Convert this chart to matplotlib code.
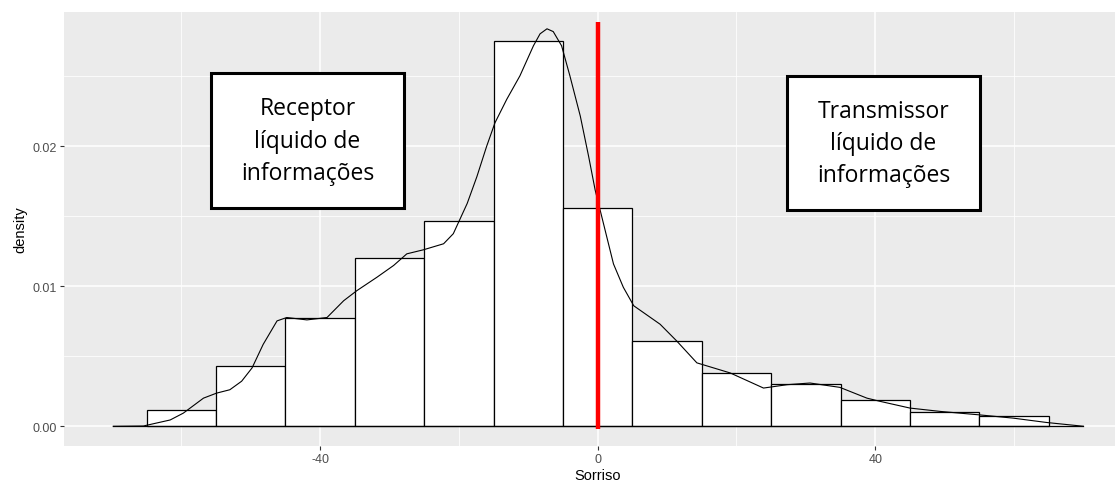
import numpy as np
import matplotlib
matplotlib.use("Agg")
import matplotlib.pyplot as plt
from matplotlib.patches import Rectangle

plt.rcParams["font.family"] = ["Liberation Sans", "DejaVu Sans"]

# histogram bins (binwidth 10) and their densities
bin_left = [-65, -55, -45, -35, -25, -15, -5, 5, 15, 25, 35, 45, 55]
bin_density = [0.00115, 0.00432, 0.00777, 0.0120, 0.01468, 0.02755, 0.01561,
               0.00612, 0.00381, 0.00302, 0.00187, 0.00101, 0.00072]

# density curve
dens_x = [-69.8, -65.45, -61.6, -59.7, -56.8, -54.9, -53.0, -51.3, -49.8, -48.2,
          -46.2, -44.8, -41.9, -39.0, -36.6, -34.7, -31.8, -29.4, -27.5, -25.1,
          -22.2, -20.8, -18.8, -17.4, -16.0, -14.8, -13.1, -11.2, -9.25, -8.3,
          -7.3, -6.4, -5.2, -4.0, -2.5, -1.3, -0.36, 0.84, 2.28, 3.7,
          5.2, 9.0, 11.4, 14.3, 19.1, 23.9, 27.3, 30.6, 34.9, 38.8,
          40.7, 45.0, 49.4, 55.1, 59.9, 64.7, 70.0]
dens_y = [0.0, 0.00002, 0.00045, 0.00094, 0.00201, 0.00237, 0.00261, 0.00322, 0.00417, 0.00585,
          0.00753, 0.00777, 0.00760, 0.00777, 0.00897, 0.00969, 0.01065, 0.01149, 0.01232, 0.01261,
          0.01304, 0.01376, 0.01592, 0.01784, 0.0200, 0.02168, 0.02336, 0.02504, 0.02719, 0.02804,
          0.0284, 0.0282, 0.02719, 0.02504, 0.02216, 0.01928, 0.01688, 0.01448, 0.0116, 0.00993,
          0.00861, 0.00729, 0.00609, 0.00453, 0.00381, 0.00273, 0.00297, 0.00309, 0.00278, 0.00201,
          0.00178, 0.0013, 0.00106, 0.00081, 0.00058, 0.00027, 0.0]

cut_at = 0
cut_top = 0.0289

labels_left = "Receptor\nlíquido de\ninformações"
labels_right = "Transmissor\nlíquido de\ninformações"

W, H = 1115, 489
fig = plt.figure(figsize=(W / 100, H / 100), dpi=100)
fig.patch.set_facecolor("white")

# panel in pixels: left 64, right ~1132 (cropped), top 13, bottom 447
px_l, px_r, px_t, px_b = 64, 1132, 13, 447
ax = fig.add_axes([px_l / W, 1 - px_b / H, (px_r - px_l) / W, (px_b - px_t) / H])
ax.set_facecolor("#EBEBEB")

x0, x1 = -76.9, 77.0
y0, y1 = -0.00141, 0.0296
ax.set_xlim(x0, x1)
ax.set_ylim(y0, y1)

# grid ggplot style
for v in [-60, -20, 20, 60]:
    ax.axvline(v, color="white", lw=0.55, zorder=0)
for v in [-40, 0, 40]:
    ax.axvline(v, color="white", lw=1.1, zorder=0)
for v in [0.005, 0.015, 0.025]:
    ax.axhline(v, color="white", lw=0.55, zorder=0)
for v in [0.0, 0.01, 0.02]:
    ax.axhline(v, color="white", lw=1.1, zorder=0)

ax.bar(bin_left, bin_density, width=10, align="edge", color="white",
       edgecolor="black", linewidth=0.9, zorder=2)
ax.plot(dens_x, dens_y, color="black", lw=0.8, zorder=3)
ax.plot([dens_x[0], dens_x[-1]], [0, 0], color="black", lw=0.9, zorder=3)
ax.plot([cut_at, cut_at], [-0.0002, cut_top], color="red", lw=3.2,
        solid_capstyle="butt", zorder=4)

for s in ax.spines.values():
    s.set_visible(False)
ax.set_xticks([-40, 0, 40])
ax.set_xticklabels(["-40", "0", "40"])
ax.set_yticks([0.0, 0.01, 0.02])
ax.set_yticklabels(["0.00", "0.01", "0.02"])
ax.tick_params(axis="both", colors="#333333", length=3, width=0.8,
               labelcolor="#4D4D4D", labelsize=9, pad=2)
ax.set_xlabel("Sorriso", fontsize=10.5, color="black", labelpad=2)
ax.set_ylabel("density", fontsize=10.5, color="black", labelpad=4)

# text boxes drawn in pixel space
def box(xa, ya, xb, yb, text):
    r = Rectangle((xa / W, 1 - yb / H), (xb - xa) / W, (yb - ya) / H,
                  transform=fig.transFigure, facecolor="white",
                  edgecolor="black", linewidth=2.2, zorder=10)
    fig.patches.append(r)
    fig.text((xa + xb) / 2 / W, 1 - (ya + yb) / 2 / H, text, ha="center",
             va="center", fontsize=16.5, family="Open Sans",
             linespacing=1.45, zorder=11)

box(211, 74, 404, 209, labels_left)
box(787, 77, 980, 211, labels_right)

fig.savefig("out.png", dpi=100)
